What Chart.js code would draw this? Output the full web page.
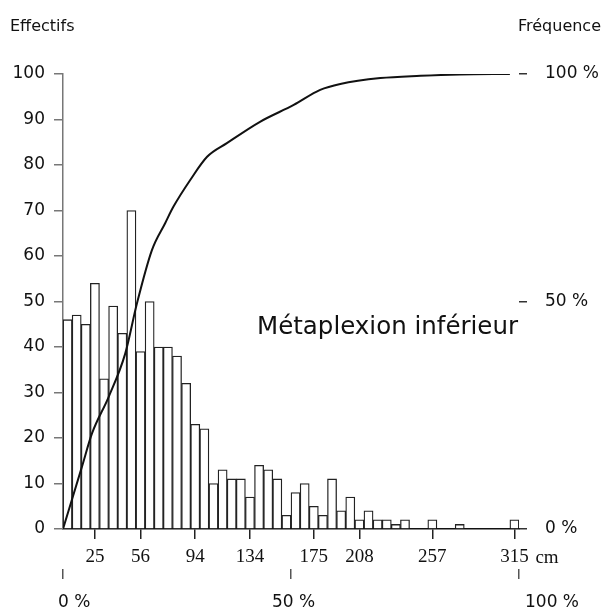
<!DOCTYPE html>
<html><head><meta charset="utf-8">
<script src="https://cdn.jsdelivr.net/npm/chart.js@4.4.0/dist/chart.umd.min.js"></script>
<style>html,body{margin:0;padding:0;background:#fff;}#wrap{width:610px;height:614px;position:relative;}</style>
</head><body><div id="wrap"><canvas id="c" width="610" height="614"></canvas></div>
<script>
// Effectifs par classe de longueur (50 classes)
const binCounts = [46,47,45,54,33,49,43,70,39,50,
                   40,40,38,32,23,22,10,13,11,11,
                   7,14,13,11,3,8,10,5,3,11,
                   4,7,2,4,2,2,1,2,0,0,
                   2,0,0,1,0,0,0,0,0,2];
// classes (1..50) portant une étiquette, et étiquettes (cm)
const tickBins = [4,9,15,21,28,33,41,50];
const tickLabels = ['25','56','94','134','175','208','257','315'];
const countTicks = [0,10,20,30,40,50,60,70,80,90,100];
const pctTicks = [0,50,100];
const pctLabels = ['0 %','50 %','100 %'];
// fréquence cumulée (position en classes, %)
const curveBin = [0,2.08,3.18,5.0,6.83,8.11,9.75,11.2,12.1,13.95,15.8,17.97,21.6,25.3,28.2,30.4,34.8,39.2,43.5,49.0];
const curvePct = [0,13.7,21,29,38.6,49.6,61.3,67.2,70.8,76.7,81.8,84.8,89.5,93.2,96.5,97.8,99.1,99.6,99.9,100];

const barData = binCounts.map((v,i)=>({x:i+0.5,y:v}));
const lineData = curveBin.map((x,i)=>({x:x,y:curvePct[i]}));

Chart.defaults.font.family = '"DejaVu Sans"';
Chart.defaults.color = '#111';

const textPlugin = {id:'texts', afterDraw(chart){
  const c = chart.ctx; c.save();
  c.fillStyle = '#111';
  c.textBaseline = 'middle';
  c.font = '16px "DejaVu Sans"';
  c.textAlign = 'left'; c.fillText('Effectifs', 10, 27);
  c.textAlign = 'right'; c.fillText('Fréquence', 601, 27);
  c.textAlign = 'left'; c.font = '24.5px "DejaVu Sans"';
  c.fillText('Métaplexion inférieur', 257, 328);
  const xs = chart.scales.x;
  c.font = '19px "Liberation Serif"';
  c.fillText('cm', xs.getPixelForValue(49.5) + 21, 558);
  // étiquettes de l'axe des pourcentages
  const xp = chart.scales.xp;
  c.font = '17px "DejaVu Sans"';
  const shifts = [-5, -19, 6];
  pctTicks.forEach((v,i)=>{ c.fillText(pctLabels[i], xp.getPixelForValue(v) + shifts[i], 603); });
  c.restore();
}};

new Chart(document.getElementById('c'), {
  type:'bar',
  data:{datasets:[
    {type:'line', data:lineData, xAxisID:'x', yAxisID:'yr', borderColor:'#111', borderWidth:2,
     pointRadius:0, cubicInterpolationMode:'monotone', fill:false, order:0},
    {type:'bar', data:barData, xAxisID:'x', yAxisID:'y', backgroundColor:'#fff', borderColor:'#222',
     borderWidth:1.3, barPercentage:1, categoryPercentage:1, borderSkipped:'start', order:1}
  ]},
  options:{
    responsive:false, animation:false,
    layout:{padding:{top:74,left:0,right:0,bottom:0}},
    plugins:{legend:{display:false}, tooltip:{enabled:false}},
    scales:{
      x:{type:'linear', position:'bottom', min:0, max:50, offset:false,
         afterBuildTicks:s=>{ s.ticks = tickBins.map(b=>({value:b-0.5})); },
         afterFit:s=>{ s.height = 40; },
         ticks:{autoSkip:false, maxRotation:0, color:'#111', font:{family:'"Liberation Serif"', size:19}, padding:7,
                callback:(v)=>tickLabels[tickBins.indexOf(Math.round(v+0.5))]},
         grid:{display:true, drawOnChartArea:false, drawTicks:true, tickLength:10, color:'#222', lineWidth:1.5, offset:false},
         border:{display:true, color:'#111', width:1.5}},
      xp:{type:'linear', position:'bottom', min:0, max:100, offset:false,
         afterBuildTicks:s=>{ s.ticks = pctTicks.map(v=>({value:v})); },
         afterFit:s=>{ s.height = 45; },
         ticks:{display:false},
         grid:{display:true, drawOnChartArea:false, drawTicks:true, tickLength:10, color:'#555', lineWidth:1.5, offset:false},
         border:{display:false}},
      y:{type:'linear', position:'left', min:0, max:100,
         afterBuildTicks:s=>{ s.ticks = countTicks.map(v=>({value:v})); },
         afterFit:s=>{ s.width = 63; },
         ticks:{color:'#111', font:{size:17}, padding:9},
         grid:{display:true, drawOnChartArea:false, drawTicks:true, tickLength:9, color:'#777', lineWidth:1.5},
         border:{display:true, color:'#777', width:1.5}},
      yr:{type:'linear', position:'right', min:0, max:100,
         afterBuildTicks:s=>{ s.ticks = pctTicks.map(v=>({value:v})); },
         afterFit:s=>{ s.width = 91; },
         ticks:{color:'#111', font:{size:17}, padding:18, callback:v=>v+' %'},
         grid:{display:true, drawOnChartArea:false, drawTicks:true, tickLength:8, color:'#333', lineWidth:1.5},
         border:{display:false}}
    }
  },
  plugins:[textPlugin]
});
</script></body></html>
